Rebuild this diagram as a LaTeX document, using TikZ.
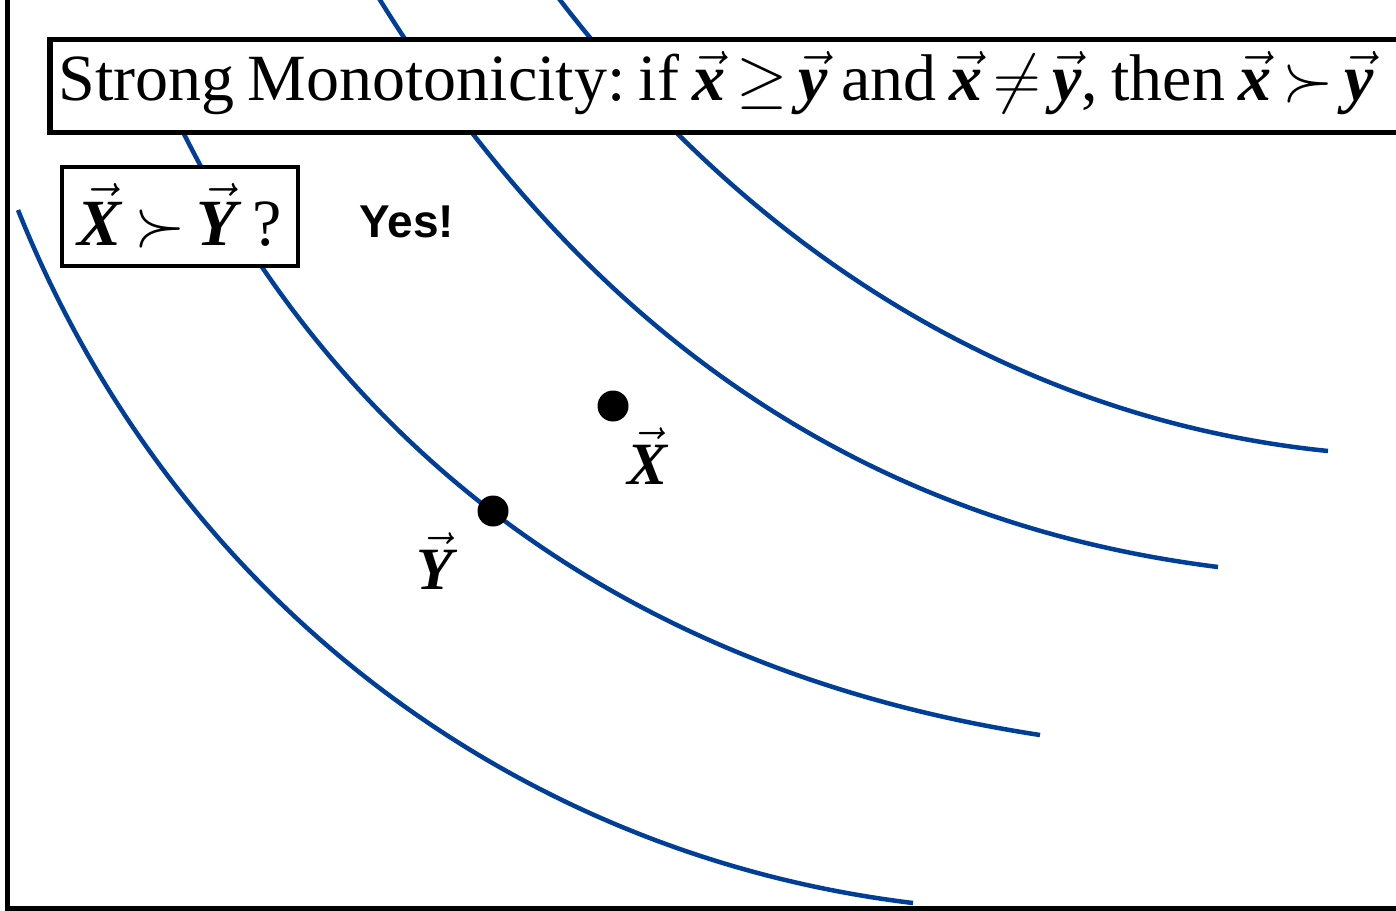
\RequirePackage{fix-cm}
\documentclass[tikz,border=0pt]{standalone}
\usepackage{fontspec}
\setmainfont{Liberation Serif}
\newfontfamily\yessans{Liberation Sans}
\usetikzlibrary{positioning}

\definecolor{icblue}{RGB}{0,62,152}
\newcommand{\bvec}[1]{\vec{\textbf{\textit{#1}}}}
\newcommand{\tightspaces}{\frenchspacing\spaceskip=0.2em\relax\thickmuskip=3mu\relax}

\tikzset{
  indiff/.style={icblue, line width=4.5pt},
  axis/.style={black, line width=5pt},
  titlebox/.style={draw, fill=white, line width=5.5pt, inner xsep=9pt, inner ysep=0pt,
    text width=1400pt, align=left,
    text height=60.5pt, text depth=32.5pt, font=\fontsize{66}{72}\selectfont},
  askbox/.style={draw, fill=white, line width=4.5pt, inner ysep=0pt, minimum width=236pt,
    text height=78pt, text depth=21pt, font=\fontsize{66}{70}\selectfont},
  bundle/.style={circle, fill=black, inner sep=0pt, minimum size=31pt},
  bundlelabel/.style={font=\fontsize{60}{66}\selectfont}
}

\begin{document}
\begin{tikzpicture}[x=1pt, y=-1pt]
    \useasboundingbox (0,0) rectangle (1396,910);

    % Curve di indifferenza
    \draw[indiff] (18,210) .. controls (171,593) and (509,854) .. (913,903);
    \draw[indiff] (165,96) -- (183,132) .. controls (352,470) and (648,675) .. (1040,735);
    \draw[indiff] (373,-11) -- (380,0) .. controls (590,338) and (867,523) .. (1218,567);
    \draw[indiff] (551,-12) -- (560,0) .. controls (763,264) and (1032,421) .. (1328,451);

    % Assi
    \coordinate (ytop) at (7.5,-5);
    \coordinate (xend) at (1400,908);
    \draw[axis] (ytop) |- (xend);

    % Titolo
    \node[titlebox, anchor=base west] (title) at (47,100)
      {\tightspaces Strong Monotonicity: if $\bvec{x} \geq \bvec{y}$ and $\bvec{x} \neq \bvec{y}$, then $\bvec{x} \succ \bvec{y}$};

    % Domanda e risposta
    \node[askbox] (ask) at (180,216.5) {\thickmuskip=3mu $\bvec{X} \succ \bvec{Y}$\,?};
    \node[font=\yessans\bfseries\fontsize{46}{50}\selectfont] (yes) at (407,221.5) {Yes!};

    % Panieri
    \node[bundle] (pX) at (613,406) {};
    \node[bundle] (pY) at (493,511) {};
    \node[bundlelabel] (labX) at (648,456) {$\bvec{X}$};
    \node[bundlelabel] (labY) at (437,561) {$\bvec{Y}$};

\end{tikzpicture}
\end{document}
